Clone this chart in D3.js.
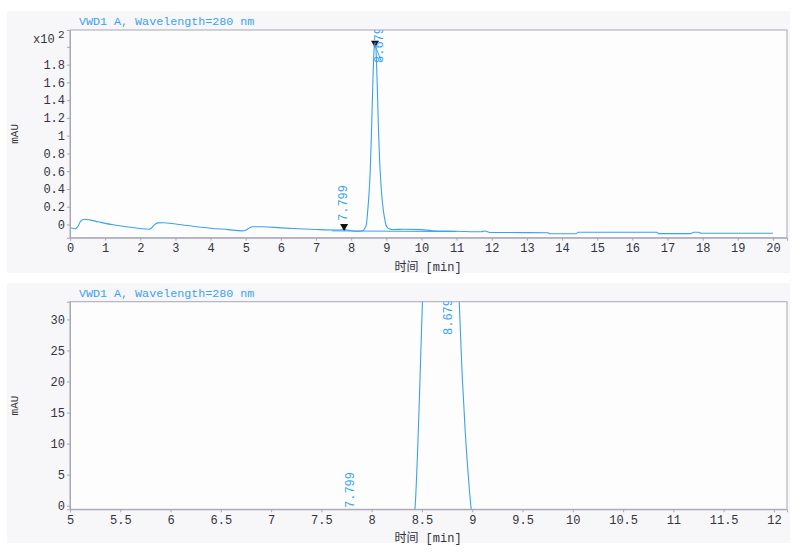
<!DOCTYPE html>
<html><head><meta charset="utf-8">
<script src="https://cdn.jsdelivr.net/npm/d3@7"></script>
<style>html,body{margin:0;padding:0;background:#fff;}svg{display:block;}</style>
</head><body>
<svg id="chart" width="811" height="556"></svg>
<script>
// ---------- DATA ----------
const titleText = "VWD1 A, Wavelength=280 nm";
const xLabelText = "时间 [min]";
const yLabelText = "mAU";
// chromatogram trace (time in min, signal in mAU)
const times = [0.00,0.08,0.15,0.22,0.30,0.40,0.55,0.80,1.00,1.30,1.60,2.00,2.25,2.32,2.40,2.50,2.65,3.00,3.50,4.00,4.50,4.90,5.00,5.10,5.20,5.50,6.00,6.50,7.00,7.50,7.75,7.80,7.85,8.00,8.20,8.30,8.36,8.40,8.43,8.47,8.505,8.54,8.575,8.61,8.64,8.66,8.679,8.70,8.72,8.75,8.78,8.81,8.84,8.87,8.90,8.93,8.96,8.99,9.03,9.10,9.20,9.50,10.00,10.30,11.00,11.70,11.80,11.95,13.00,13.60,13.65,14.40,14.45,16.70,16.75,17.65,17.75,17.90,17.95,20.00];
const signal = [-3.6,-4.2,-5.0,-2.5,3.5,5.8,5.2,3.0,1.2,-0.8,-2.6,-4.6,-5.4,-4.0,-0.5,1.8,2.0,0.5,-2.0,-4.2,-5.8,-7.2,-6.5,-4.0,-2.6,-2.5,-3.8,-4.8,-5.6,-6.2,-6.0,-5.6,-6.0,-7.0,-7.6,-7.4,-6.0,-3.5,-0.6,15,33,58,100,150,188,202,206,201,184,145,103,72,50,33,21,12,5,-0.6,-3.5,-5.0,-5.6,-5.4,-5.8,-7.0,-7.6,-8.2,-7.4,-9.0,-9.2,-9.4,-10.4,-10.4,-8.8,-8.8,-10.3,-10.3,-8.8,-8.8,-9.9,-9.9];
// integration baseline
const baseTimes = [7.45, 11.0];
const baseValues = [-7.2, -8.0];
// detected peaks
const peakTimes = [7.799, 8.679];
const peakLabels = ["7.799", "8.679"];
const peakMarkerValues = [-6.2, 200];
// axes
const topXDomain = [0, 20.4];
const topYDomain = [-14.9, 219];
const topXTicks = [0,1,2,3,4,5,6,7,8,9,10,11,12,13,14,15,16,17,18,19,20];
const topYTicks = [0,20,40,60,80,100,120,140,160,180,200];
const topYTickLabels = ["0","0.2","0.4","0.6","0.8","1","1.2","1.4","1.6","1.8",""];
const botXDomain = [5, 12.13];
const botYDomain = [-0.58, 32.85];
const botXTicks = [5,5.5,6,6.5,7,7.5,8,8.5,9,9.5,10,10.5,11,11.5,12];
const botXTickLabels = ["5","5.5","6","6.5","7","7.5","8","8.5","9","9.5","10","10.5","11","11.5","12"];
const botYTicks = [0,5,10,15,20,25,30];

// ---------- STYLE ----------
const lineColor = "#3aa2f2";
const axisColor = "#a7a7b9";
const textColor = "#333340";
const font = "'Liberation Mono','Noto Sans CJK SC',monospace";

const svg = d3.select("#chart");
const trace = times.map((t,i)=>({t, v: signal[i]}));
const base = baseTimes.map((t,i)=>({t, v: baseValues[i]}));

function panel(cfg){
  const g = svg.append("g");
  g.append("rect").attr("x",7).attr("y",cfg.bgTop).attr("width",783).attr("height",cfg.bgH).attr("fill","#f7f7f9");
  const x = d3.scaleLinear().domain(cfg.xDomain).range([70,787]);
  const y = d3.scaleLinear().domain(cfg.yDomain).range([cfg.bottom, cfg.top]);
  g.append("rect").attr("x",70).attr("y",cfg.top).attr("width",717).attr("height",cfg.bottom-cfg.top)
    .attr("fill","#fdfdfd").attr("stroke",axisColor).attr("stroke-width",1);
  const clipId = "clip"+cfg.id;
  svg.append("clipPath").attr("id",clipId).append("rect")
    .attr("x",70).attr("y",cfg.top).attr("width",717).attr("height",cfg.bottom-cfg.top);
  const plot = g.append("g").attr("clip-path",`url(#${clipId})`);
  const line = d3.line().x(d=>x(d.t)).y(d=>y(d.v)).curve(d3.curveMonotoneX);
  plot.append("path").datum(base).attr("d",d3.line().x(d=>x(d.t)).y(d=>y(d.v))).attr("fill","none").attr("stroke",lineColor).attr("stroke-width",1);
  plot.append("path").datum(trace).attr("d",line).attr("fill","none").attr("stroke",lineColor).attr("stroke-width",1.1);
  // markers
  if(cfg.markers){
    peakTimes.forEach((t,i)=>{
      const px = x(t), py = y(peakMarkerValues[i]);
      plot.append("path").attr("d",`M${px-4},${py-6}L${px+4},${py-6}L${px},${py+1}Z`).attr("fill","#111");
    });
    plot.append("line").attr("x1",x(peakTimes[1])).attr("y1",y(peakMarkerValues[1])-2)
      .attr("x2",x(peakTimes[1])+6).attr("y2",y(peakMarkerValues[1])+14).attr("stroke",lineColor).attr("stroke-width",1);
  }
  // peak labels
  cfg.labels.forEach(L=>{
    plot.append("text").attr("transform",`translate(${x(peakTimes[L.i])+L.dx},${L.y}) rotate(-90)`)
      .attr("dominant-baseline","central").attr("fill",lineColor)
      .style("font-family",font).style("font-size","12px").text(peakLabels[L.i]);
  });
  // axes
  const xAxis = d3.axisBottom(x).tickValues(cfg.xTicks).tickSize(3).tickPadding(3)
    .tickFormat((d,i)=>cfg.xTickLabels ? cfg.xTickLabels[i] : String(d));
  const gx = g.append("g").attr("transform",`translate(0,${cfg.bottom})`).call(xAxis);
  const yAxis = d3.axisLeft(y).tickValues(cfg.yTicks).tickSize(3).tickPadding(2)
    .tickFormat((d,i)=>cfg.yTickLabels ? cfg.yTickLabels[i] : String(d));
  const gy = g.append("g").attr("transform","translate(70,0)").call(yAxis);
  [gx,gy].forEach(a=>{
    a.select(".domain").attr("stroke",axisColor);
    a.selectAll(".tick line").attr("stroke",axisColor);
    a.selectAll(".tick text").attr("fill",textColor).style("font-family",font).style("font-size","12px");
  });
  // title
  g.append("text").attr("x",79).attr("y",cfg.top-5).attr("fill",lineColor)
    .style("font-family",font).style("font-size","11.7px").text(titleText);
  // x label
  g.append("text").attr("x",428).attr("y",cfg.bottom+33).attr("text-anchor","middle").attr("fill",textColor)
    .style("font-family",font).style("font-size","12px").text(xLabelText);
  // y label
  g.append("text").attr("transform",`translate(15,${(cfg.top+cfg.bottom)/2}) rotate(-90)`)
    .attr("text-anchor","middle").attr("dominant-baseline","central").attr("fill",textColor)
    .style("font-family",font).style("font-size","11px").text(yLabelText);
  return {x,y,g};
}

const p1 = panel({id:1, bgTop:11, bgH:262, top:30, bottom:237.7, xDomain:topXDomain, yDomain:topYDomain,
  xTicks:topXTicks, yTicks:topYTicks, yTickLabels:topYTickLabels, markers:true,
  labels:[{i:0, dx:0, y:221}, {i:1, dx:5, y:63}]});
// exponent label
p1.g.append("text").attr("x",33).attr("y",43).attr("fill",textColor)
  .style("font-family",font).style("font-size","12px").text("x10");
p1.g.append("text").attr("x",58).attr("y",38).attr("fill",textColor)
  .style("font-family",font).style("font-size","11px").text("2");

panel({id:2, bgTop:283, bgH:260, top:301.7, bottom:509.3, xDomain:botXDomain, yDomain:botYDomain,
  xTicks:botXTicks, xTickLabels:botXTickLabels, yTicks:botYTicks, markers:false,
  labels:[{i:0, dx:0, y:508}, {i:1, dx:9, y:335}]});
</script>
</body></html>
